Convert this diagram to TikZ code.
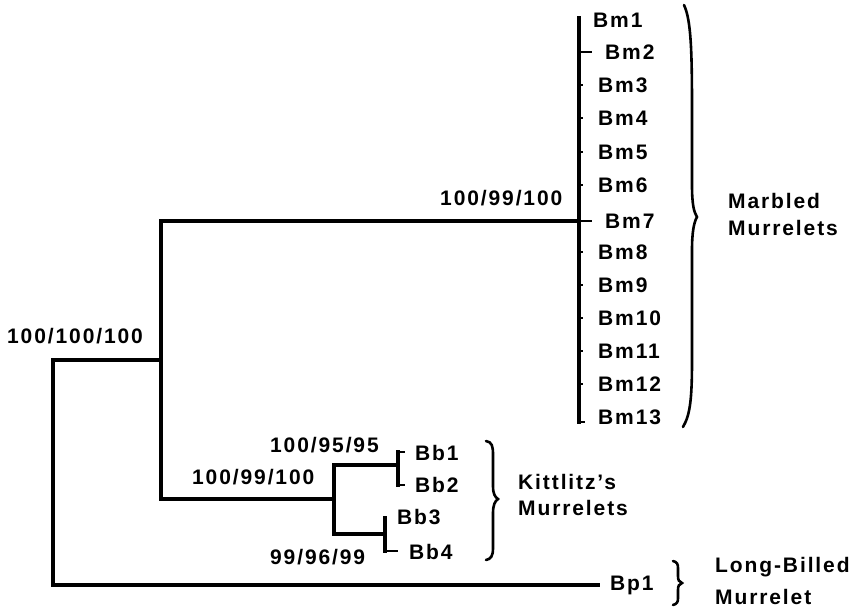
\documentclass[tikz,border=0pt]{standalone}
\usepackage{fontspec}
\newfontfamily\labfont{Liberation Sans Bold}[LetterSpace=9]
\begin{document}
\begin{tikzpicture}[x=1pt,y=-1pt,
  lab/.style={font=\labfont\fontsize{21}{23}\selectfont, inner sep=0pt, anchor=west},
  branch/.style={line width=3.2pt, line cap=rect},
  tick/.style={line width=2.4pt},
  brc/.style={line width=2.6pt, line cap=round}]
\useasboundingbox (0,0) rectangle (854,614);
% joints
\coordinate (r1) at (53,360);
\coordinate (r2) at (53,585);
\coordinate (a1) at (161,360);
\coordinate (at) at (161,221);
\coordinate (ab) at (161,499);
\coordinate (bmj) at (579,221);
\coordinate (bmt) at (579,18);
\coordinate (bmb) at (579,422);
\coordinate (k) at (334,499);
\coordinate (k1) at (334,465);
\coordinate (k2) at (334,534);
\coordinate (kb1) at (398,465);
\coordinate (kb1t) at (398,452);
\coordinate (kb1b) at (398,485);
\coordinate (kb2) at (385,534);
\coordinate (kb2t) at (385,518);
\coordinate (kb2b) at (385,551);
% leaf labels
\node[lab] (Bm1) at (593,20) {Bm1};
\node[lab] (Bm2) at (605,52) {Bm2};
\node[lab] (Bm3) at (598,85) {Bm3};
\node[lab] (Bm4) at (598,118) {Bm4};
\node[lab] (Bm5) at (598,152) {Bm5};
\node[lab] (Bm6) at (598,185) {Bm6};
\node[lab] (Bm7) at (605,221) {Bm7};
\node[lab] (Bm8) at (598,252) {Bm8};
\node[lab] (Bm9) at (598,285) {Bm9};
\node[lab] (Bm10) at (598,318) {Bm10};
\node[lab] (Bm11) at (598,351) {Bm11};
\node[lab] (Bm12) at (598,384) {Bm12};
\node[lab] (Bm13) at (598,417) {Bm13};
\node[lab] (Bb1) at (415,453) {Bb1};
\node[lab] (Bb2) at (415,485) {Bb2};
\node[lab] (Bb3) at (397,517) {Bb3};
\node[lab] (Bb4) at (409,552) {Bb4};
\node[lab] (Bp1) at (610,585) {Bp1};
% support values
\node[lab] (s0) at (7,336) {100/100/100};
\node[lab] (s1) at (440,198) {100/99/100};
\node[lab] (s2) at (192,477) {100/99/100};
\node[lab] (s3) at (270,445) {100/95/95};
\node[lab] (s4) at (270,557) {99/96/99};
% group labels
\node[lab, align=left, anchor=west] (gm) at (728,214) {Marbled\\[4pt]Murrelets};
\node[lab, align=left, anchor=west] (gk) at (518,495) {Kittlitz’s\\[3pt]Murrelets};
\node[lab, align=left, anchor=west] (gl) at (715,581) {Long-Billed\\[9pt]Murrelet};
% tree
\draw[branch] (a1) -- (r1) -- (r2);
\draw[branch, shorten >=12pt] (r2) -- (Bp1.west |- r2);
\draw[branch] (at) -- (ab);
\draw[branch] (at) -- (bmj);
\draw[branch] (bmt) -- (bmb);
\draw[branch] (ab) -- (k);
\draw[branch] (k1) -- (k2);
\draw[branch] (k1) -- (kb1);
\draw[branch] (kb1t) -- (kb1b);
\draw[branch] (k2) -- (kb2);
\draw[branch] (kb2t) -- (kb2b);
% ticks
\draw[tick] (bmt |- Bm2.west) -- ++(13,0);
\foreach \n in {3,4,5,6,8,9,10,11,12} \draw[tick] (bmt |- Bm\n.west) -- ++(4,0);
\draw[tick] (bmj) -- ++(13,0);
\draw[tick] (bmb) -- ++(6,0);
\draw[tick] (kb1t) -- ++(7,0);
\draw[tick] (kb1b) -- ++(7,0);
\draw[tick] (kb2b) -- ++(13,0);
% braces
\draw[brc] (684,5) .. controls (691,20) and (692,50) .. (692,110) -- (692,185) .. controls (692,205) and (694,212) .. (697,217) .. controls (694,222) and (692,232) .. (692,250) -- (692,360) .. controls (692,400) and (690,415) .. (683,427);
\draw[brc] (486,441) .. controls (492,442) and (493,446) .. (493,455) -- (493,486) .. controls (493,494) and (495,497) .. (498,499) .. controls (495,501) and (493,505) .. (493,513) -- (493,548) .. controls (493,556) and (491,559) .. (486,560);
\draw[brc] (673,561) .. controls (677,562) and (678,564) .. (678,568) -- (678,576) .. controls (678,580) and (679,582) .. (682,583) .. controls (679,584) and (678,586) .. (678,590) -- (678,598) .. controls (678,602) and (677,604) .. (673,605);
\end{tikzpicture}
\end{document}
